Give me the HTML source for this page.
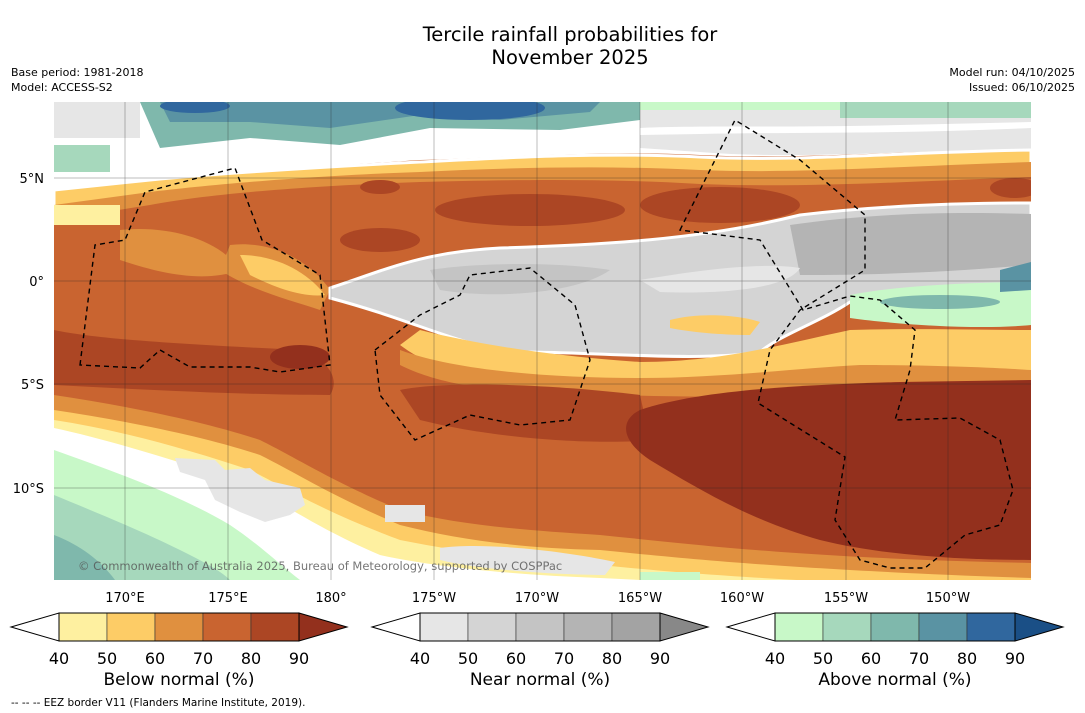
<!DOCTYPE html>
<html><head><meta charset="utf-8"><style>
body{margin:0;background:#fff;width:1085px;height:713px;overflow:hidden;font-family:"DejaVu Sans","Liberation Sans",sans-serif}
svg{display:block}
</style></head><body>
<svg id="root" width="1085" height="713" viewBox="0 0 1085 713">
<text x="570" y="41" font-size="19.5" text-anchor="middle">Tercile rainfall probabilities for</text>
<text x="570" y="64" font-size="19.5" text-anchor="middle">November 2025</text>
<text x="11" y="76" font-size="11">Base period: 1981-2018</text>
<text x="11" y="91" font-size="11">Model: ACCESS-S2</text>
<text x="1075" y="76" font-size="11" text-anchor="end">Model run: 04/10/2025</text>
<text x="1075" y="91" font-size="11" text-anchor="end">Issued: 06/10/2025</text>
<defs><clipPath id="mc"><rect x="54" y="102" width="977" height="478"/></clipPath></defs>
<g clip-path="url(#mc)">
<rect x="54" y="102" width="977" height="478" fill="#c96430"/>
<path d="M54,102 H1031 V150 C900,150 800,160 700,155 C600,150 500,158 420,160 C300,168 200,175 150,180 L54,190 Z" fill="#fff"/>
<path d="M54,102 H140 V138 H54 Z" fill="#e6e6e6"/>
<path d="M54,145 H110 V172 H54 Z" fill="#a6d8bc"/>
<path d="M140,102 H640 L640,120 L560,130 L430,128 L340,145 L250,138 L160,148 Z" fill="#7fb8ac"/>
<path d="M160,102 H600 L590,112 L500,120 L420,115 L330,128 L250,122 L170,122 Z" fill="#5a93a3"/>
<ellipse cx="470" cy="108" rx="75" ry="12" fill="#30679e"/>
<ellipse cx="195" cy="106" rx="35" ry="7" fill="#30679e"/>
<path d="M640,102 H1031 V150 C900,150 800,160 700,152 L640,148 Z" fill="#e6e6e6"/>
<path d="M640,128 C700,125 800,128 900,125 L1031,122 V128 C900,134 800,132 700,134 L640,135 Z" fill="#fff"/>
<path d="M840,102 H1031 V118 L840,118 Z" fill="#a6d8bc"/>
<path d="M640,102 H840 V110 H640 Z" fill="#c8f8c8"/>
<path d="M54,190 L150,180 C200,175 300,168 420,162 C500,158 600,152 700,157 C800,162 900,152 1031,150 V400 H54 Z" fill="#fdcc66" stroke="#fff" stroke-width="3"/>
<path d="M54,205 L150,192 C200,186 300,176 420,172 C500,168 600,165 700,170 C800,174 900,166 1031,162 V400 H54 Z" fill="#e0903f"/>
<path d="M54,220 L150,205 C200,195 300,186 420,182 C500,180 600,178 700,184 C800,188 900,182 1031,177 V420 H54 Z" fill="#c96430"/>
<path d="M54,205 H120 V225 H54 Z" fill="#fef0a0"/>
<ellipse cx="530" cy="210" rx="95" ry="16" fill="#ac4624"/>
<ellipse cx="720" cy="205" rx="80" ry="18" fill="#ac4624"/>
<ellipse cx="380" cy="240" rx="40" ry="12" fill="#ac4624"/>
<ellipse cx="380" cy="187" rx="20" ry="7" fill="#ac4624"/>
<ellipse cx="1015" cy="188" rx="25" ry="10" fill="#ac4624"/>
<path d="M230,245 C270,240 310,260 330,290 L320,310 C290,300 250,290 220,270 Z" fill="#e0903f"/>
<path d="M120,230 C170,225 220,240 240,270 C200,285 150,270 120,260 Z" fill="#e0903f"/>
<path d="M240,255 C280,255 310,275 325,295 C300,298 270,285 250,275 Z" fill="#fdcc66"/>
<path d="M330,288 C380,272 420,252 500,248 C600,245 700,240 800,215 C900,203 1000,203 1031,203 V282 C950,290 880,300 850,302 C820,322 780,335 760,352 C700,362 600,352 520,352 C460,347 420,322 330,298 Z" fill="#d4d4d4" stroke="#fff" stroke-width="3"/>
<path d="M790,225 C880,212 960,212 1031,214 V265 C950,272 880,275 800,275 Z" fill="#b4b4b4"/>
<path d="M430,270 C480,262 560,262 610,270 C580,292 500,300 440,290 Z" fill="#c4c4c4"/>
<path d="M640,280 C700,270 760,262 800,268 C790,285 740,295 660,292 Z" fill="#e6e6e6"/>
<path d="M850,295 C900,285 980,282 1031,282 V325 C980,330 900,325 850,318 Z" fill="#c8f8c8"/>
<ellipse cx="940" cy="302" rx="60" ry="7" fill="#7fb8ac"/>
<path d="M1000,270 L1031,262 V290 L1000,292 Z" fill="#5a93a3"/>
<path d="M670,320 C700,312 740,315 760,322 L750,335 C720,335 690,332 670,328 Z" fill="#fdcc66"/>
<path d="M420,330 C480,345 560,357 640,362 C720,362 780,345 850,330 C920,328 980,330 1031,330 V382 C950,380 850,383 760,386 C680,388 600,385 500,380 C450,375 420,360 400,345 Z" fill="#fdcc66"/>
<path d="M400,350 C460,372 560,378 640,378 C720,378 800,368 860,365 C940,365 1000,368 1031,370 V392 C950,390 850,393 760,396 C680,398 600,395 500,390 C450,385 420,375 400,365 Z" fill="#e0903f"/>
<path d="M400,390 C450,380 560,385 640,395 L650,440 C600,445 500,440 420,420 Z" fill="#ac4624"/>
<path d="M54,330 C100,340 200,345 300,350 C330,360 340,380 330,395 C250,395 150,390 54,385 Z" fill="#ac4624"/>
<ellipse cx="300" cy="357" rx="30" ry="12" fill="#93301d"/>
<path d="M640,410 C700,390 800,385 900,382 L1031,380 V560 C960,560 880,555 820,540 C750,520 700,490 650,460 C620,440 620,420 640,410 Z" fill="#93301d"/>
<path d="M54,395 C120,405 200,420 260,440 C300,460 330,480 400,510 C460,525 520,530 600,535 C700,545 800,558 1031,563 V580 H54 Z" fill="#e0903f"/>
<path d="M54,410 C120,420 200,435 260,455 C300,475 330,495 400,525 C460,540 520,548 600,550 C700,560 800,570 1031,578 V580 H54 Z" fill="#fdcc66"/>
<path d="M54,420 C120,430 190,450 250,470 C290,490 320,510 400,540 C460,552 520,560 600,565 C700,575 800,582 1031,590 V590 H54 Z" fill="#fef0a0"/>
<path d="M54,428 C110,440 180,462 240,482 C280,500 310,525 380,555 C440,568 520,575 600,578 C680,582 760,585 800,590 H54 Z" fill="#fff"/>
<path d="M175,458 L215,460 L225,470 L250,468 L265,480 L300,488 L305,505 L290,515 L265,522 L240,512 L215,500 L205,480 L180,472 Z" fill="#e6e6e6"/>
<path d="M385,505 H425 V522 H385 Z" fill="#e6e6e6"/>
<path d="M440,548 C480,542 560,550 615,562 L605,575 C560,575 480,570 440,560 Z" fill="#e6e6e6"/>
<path d="M54,450 C110,470 180,495 230,525 C260,545 280,565 300,580 H54 Z" fill="#c8f8c8"/>
<path d="M54,495 C90,510 140,530 180,550 C200,560 220,570 230,580 H54 Z" fill="#a6d8bc"/>
<path d="M54,535 C80,545 100,560 115,580 H54 Z" fill="#7fb8ac"/>
<path d="M640,572 H700 V580 H640 Z" fill="#c8f8c8"/>
<g stroke="#222" stroke-width="0.5" opacity="0.6">
<line x1="125" y1="102" x2="125" y2="580"/><line x1="228" y1="102" x2="228" y2="580"/><line x1="331" y1="102" x2="331" y2="580"/>
<line x1="434" y1="102" x2="434" y2="580"/><line x1="537" y1="102" x2="537" y2="580"/><line x1="640" y1="102" x2="640" y2="580"/>
<line x1="742" y1="102" x2="742" y2="580"/><line x1="846" y1="102" x2="846" y2="580"/><line x1="948" y1="102" x2="948" y2="580"/>
<line x1="54" y1="178" x2="1031" y2="178"/><line x1="54" y1="281" x2="1031" y2="281"/><line x1="54" y1="384" x2="1031" y2="384"/><line x1="54" y1="488" x2="1031" y2="488"/>
</g>
<g fill="none" stroke="#000" stroke-width="1.4" stroke-dasharray="5,4">
<path d="M80,365 L95,245 L125,240 L145,192 L235,168 L262,240 L320,275 L330,365 L280,372 L250,367 L190,367 L160,350 L140,368 Z"/>
<path d="M375,350 L420,315 L460,295 L470,275 L530,268 L575,305 L590,360 L570,420 L520,425 L470,415 L415,440 L380,395 Z"/>
<path d="M680,230 L735,120 L800,160 L865,215 L865,270 L800,310 L770,350 L758,403 L845,457 L835,520 L860,560 L890,568 L925,568 L965,535 L1000,525 L1013,490 L1000,440 L960,418 L895,420 L910,370 L915,330 L880,300 L850,296 L803,310 L760,240 Z"/>
</g>
<text x="78" y="570" font-size="11.5" fill="#555" opacity="0.8">© Commonwealth of Australia 2025, Bureau of Meteorology, supported by COSPPac</text>
</g>
<g font-size="13">
<text x="44" y="183" text-anchor="end">5°N</text><text x="44" y="286" text-anchor="end">0°</text>
<text x="44" y="389" text-anchor="end">5°S</text><text x="44" y="493" text-anchor="end">10°S</text>
</g>
<g font-size="13" text-anchor="middle">
<text x="125" y="602">170°E</text><text x="228" y="602">175°E</text><text x="331" y="602">180°</text>
<text x="434" y="602">175°W</text><text x="537" y="602">170°W</text><text x="640" y="602">165°W</text>
<text x="742" y="602">160°W</text><text x="846" y="602">155°W</text><text x="948" y="602">150°W</text>
</g>
<g id="bars"></g>
<text x="11" y="706" font-size="10.5">-- -- -- EEZ border V11 (Flanders Marine Institute, 2019).</text>
</svg>
<script>
const tickLabels = [40, 50, 60, 70, 80, 90];
const belowColors = ["#fef0a0", "#fdcc66", "#e0903f", "#c96430", "#ac4624", "#93301d"];
const nearColors = ["#e6e6e6", "#d4d4d4", "#c4c4c4", "#b4b4b4", "#a3a3a3", "#888888"];
const aboveColors = ["#c8f8c8", "#a6d8bc", "#7fb8ac", "#5a93a3", "#30679e", "#1a4f86"];
const barTitles = ["Below normal (%)", "Near normal (%)", "Above normal (%)"];
const NS = "http://www.w3.org/2000/svg";
const g = document.getElementById("bars");
function mk(t, a){const e=document.createElementNS(NS,t);for(const k in a)e.setAttribute(k,a[k]);g.appendChild(e);return e;}
const starts = [59, 420, 775];
[belowColors, nearColors, aboveColors].forEach((cols, bi) => {
  const x0 = starts[bi], y0 = 613, h = 28, w = 48;
  const n = tickLabels.length - 1;
  const lt = mk("polygon", {points: `${x0-48},${y0+h/2} ${x0},${y0} ${x0},${y0+h}`, fill: "#fff", stroke: "#000", "stroke-width": 1});
  
  
  for (let i = 0; i < n; i++) {
    const r = mk("rect", {x: x0 + i*w, y: y0, width: w, height: h, fill: cols[i], stroke: "#333", "stroke-width": 0.6});
    
    
  }
  const xe = x0 + n*w;
  const rt = mk("polygon", {points: `${xe},${y0} ${xe+48},${y0+h/2} ${xe},${y0+h}`, fill: cols[n], stroke: "#000", "stroke-width": 1});
  
  
  mk("rect", {x: x0, y: y0, width: n*w, height: h, fill: "none", stroke: "#000", "stroke-width": 1});
  tickLabels.forEach((v, i) => {
    const t = mk("text", {x: x0 + i*w, y: 664, "font-size": 16, "text-anchor": "middle"});
    t.textContent = v;
    
    
  });
  const tt = mk("text", {x: x0 + n*w/2, y: 685, "font-size": 17, "text-anchor": "middle"});
  tt.textContent = barTitles[bi];
  
  
});
</script>
</body></html>
